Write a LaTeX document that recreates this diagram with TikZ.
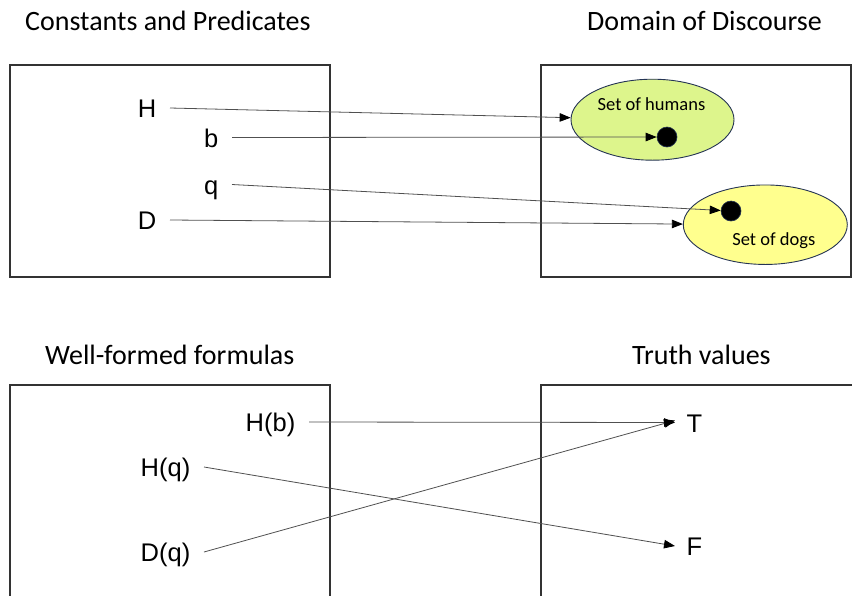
\documentclass[tikz,border=0pt]{standalone}
\usepackage{fontspec}
\setmainfont{Carlito}
\newfontfamily\labelfont{Liberation Sans}
\usetikzlibrary{arrows.meta,shapes.geometric}
\definecolor{humfill}{HTML}{DDF58C}
\definecolor{dogfill}{HTML}{FFFF8E}
\definecolor{rim}{HTML}{253454}
\definecolor{edge}{HTML}{333333}
\definecolor{wire}{HTML}{505050}
\begin{document}
\begin{tikzpicture}[x=1pt,y=-1pt,
  panel/.style={draw=edge,line width=1.3pt},
  heading/.style={anchor=base west,inner sep=0pt,font=\fontsize{28}{30}\selectfont},
  src/.style={anchor=east,inner xsep=13.5pt,inner ysep=3pt,text height=19pt,text depth=0pt,font=\labelfont\fontsize{25.5}{28}\selectfont},
  dst/.style={src,anchor=west,inner xsep=11.5pt},
  setshape/.style={ellipse,draw=rim,line width=0.9pt,inner sep=0pt},
  dot/.style={circle,fill=black,draw=rim,line width=0.6pt,minimum size=20pt,inner sep=0pt},
  setlabel/.style={anchor=base,inner sep=0pt,font=\fontsize{18.5}{20}\selectfont},
  link/.style={draw=wire,line width=0.8pt,-{Triangle[length=11pt,width=8.5pt,color=black]}}
]
\clip (0,0) rectangle (852,595);

% headings
\node[heading] (t1) at (25,30) {Constants and Predicates};
\node[heading] (t2) at (587,30) {Domain of Discourse};
\node[heading] (t3) at (45,364) {Well-formed formulas};
\node[heading] (t4) at (632,364) {Truth values};

% panels
\draw[panel] (10,65) rectangle (330,277);
\draw[panel] (541,65) rectangle (851,277);
\draw[panel] (10,385) rectangle (330,610);
\draw[panel] (541,385) rectangle (880,610);

% sets in the domain
\node[setshape,fill=humfill,minimum width=163pt,minimum height=81pt] (hum) at (652.5,119.7) {};
\node[setshape,fill=dogfill,minimum width=164pt,minimum height=79.5pt] (dog) at (765.3,224.7) {};
\node[setlabel] (humlbl) at (651.5,110) {Set of humans};
\node[setlabel] (doglbl) at (773.8,245) {Set of dogs};
\node[dot] (hdot) at (667,137) {};
\node[dot] (ddot) at (731,211) {};

% symbols
\node[src] (H) at (170,108) {H};
\node[src] (b) at (232,137.5) {b};
\node[src] (q) at (232,184.5) {q};
\node[src] (D) at (170,220) {D};

% formulas and truth values
\node[src] (Hb) at (309,422) {H(b)};
\node[src] (Hq) at (204,467) {H(q)};
\node[src] (Dq) at (204,552) {D(q)};
\node[dst] (T) at (675,422.5) {T};
\node[dst] (F) at (675,546) {F};

% interpretation
\draw[link] (H.east) -- (hum);
\draw[link] (b.east) -- (hdot);
\draw[link] (q.east) -- (ddot);
\draw[link] (D.east) -- (dog);
\draw[link] (Hb.east) -- (T.west);
\draw[link] (Hq.east) -- (F.west);
\draw[link] (Dq.east) -- ([yshift=2pt]T.west);
\end{tikzpicture}
\end{document}
